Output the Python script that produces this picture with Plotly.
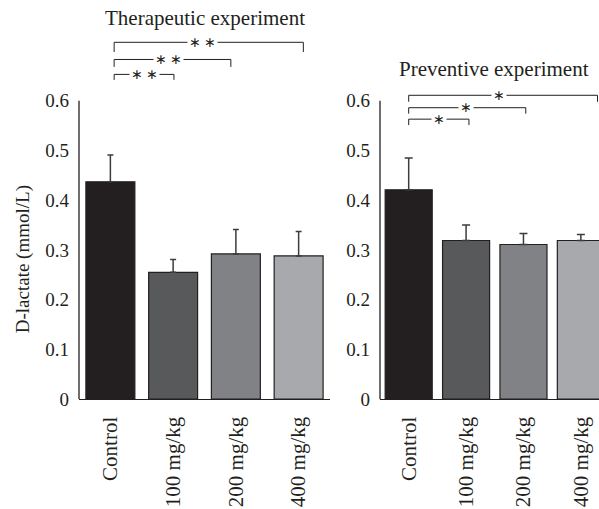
import plotly.graph_objects as go

# D-lactate levels (mmol/L), mean and upper SD for each group
groups = ["Control", "100 mg/kg", "200 mg/kg", "400 mg/kg"]
therapeutic_mean = [0.437, 0.255, 0.292, 0.288]
therapeutic_sd = [0.054, 0.026, 0.049, 0.049]
preventive_mean = [0.421, 0.319, 0.311, 0.319]
preventive_sd = [0.064, 0.031, 0.022, 0.012]

y_ticks = [0, 0.1, 0.2, 0.3, 0.4, 0.5, 0.6]
y_tick_text = ["0", "0.1", "0.2", "0.3", "0.4", "0.5", "0.6"]

bar_colors = ["#231f20", "#58595b", "#808285", "#a7a9ac"]
ink = "#231f20"
serif = "Liberation Serif, Times New Roman, serif"

# significance brackets: (x_start, x_end, y_line, y_drop, star_x, label)
therapeutic_brackets = [
    (0.06, 3.075, 0.7175, 0.698, 1.475, "∗∗"),
    (0.06, 1.92, 0.683, 0.668, 0.93, "∗∗"),
    (0.06, 1.013, 0.653, 0.642, 0.55, "∗∗"),
]
preventive_brackets = [
    (0.0, 3.29, 0.611, 0.598, 1.57, "∗"),
    (0.0, 2.04, 0.586, 0.574, 0.995, "∗"),
    (0.0, 1.05, 0.563, 0.551, 0.52, "∗"),
]

W, H = 599, 509
left_dom = [79 / W, 330 / W]
right_dom = [380 / W, 1.0]
y_dom = [101 / H, 507.7 / H]
y_range = [0, 0.8]

fig = go.Figure()

fig.add_trace(go.Bar(
    x=list(range(len(groups))), y=therapeutic_mean, width=0.78,
    marker=dict(color=bar_colors, line=dict(color=ink, width=1.2)),
    error_y=dict(type="data", symmetric=False, array=therapeutic_sd,
                 arrayminus=[0] * len(groups), color="#3d3b3c",
                 thickness=1.5, width=3),
    xaxis="x", yaxis="y", showlegend=False,
))
fig.add_trace(go.Bar(
    x=list(range(len(groups))), y=preventive_mean, width=0.82,
    marker=dict(color=bar_colors, line=dict(color=ink, width=1.2)),
    error_y=dict(type="data", symmetric=False, array=preventive_sd,
                 arrayminus=[0] * len(groups), color="#3d3b3c",
                 thickness=1.5, width=4),
    xaxis="x2", yaxis="y2", showlegend=False,
))

shapes = []
annotations = []


def add_brackets(brackets, xref, yref):
    for x0, x1, yl, yd, sx, label in brackets:
        shapes.append(dict(type="line", xref=xref, yref=yref, x0=x0, x1=x1,
                           y0=yl, y1=yl, line=dict(color=ink, width=1)))
        for xe in (x0, x1):
            shapes.append(dict(type="line", xref=xref, yref=yref, x0=xe, x1=xe,
                               y0=yl, y1=yd, line=dict(color=ink, width=1)))
        annotations.append(dict(xref=xref, yref=yref, x=sx, y=yl,
                                text=label.replace("∗∗", "∗&#8201;∗"),
                                showarrow=False, bgcolor="white", borderpad=1,
                                xanchor="center", yanchor="middle",
                                font=dict(family=serif, size=14, color=ink)))


add_brackets(therapeutic_brackets, "x", "y")
add_brackets(preventive_brackets, "x2", "y2")

# vertical axis lines stop at 0.6
for xr, yr in (("x domain", "y"), ("x2 domain", "y2")):
    shapes.append(dict(type="line", xref=xr, yref=yr, x0=0, x1=0, y0=0, y1=0.6,
                       line=dict(color=ink, width=1.3)))

annotations += [
    dict(xref="paper", yref="paper", x=205 / W, y=(H - 18) / H,
         text="Therapeutic experiment", showarrow=False,
         xanchor="center", yanchor="middle",
         font=dict(family=serif, size=21, color=ink)),
    dict(xref="paper", yref="paper", x=494 / W, y=(H - 71) / H,
         text="Preventive experiment", showarrow=False,
         xanchor="center", yanchor="middle",
         font=dict(family=serif, size=21, color=ink)),
    dict(xref="paper", yref="paper", x=23 / W, y=(H - 265) / H,
         text="D-lactate (mmol/L)", textangle=-90, showarrow=False,
         xanchor="center", yanchor="middle",
         font=dict(family=serif, size=19, color=ink)),
]

xaxis_common = dict(
    tickmode="array", tickvals=list(range(len(groups))), ticktext=groups,
    tickangle=-90, showline=True, linecolor=ink, linewidth=1.3,
    showgrid=False, zeroline=False, ticks="", ticklabelstandoff=8,
    tickfont=dict(family=serif, size=21, color=ink),
)
yaxis_common = dict(
    range=y_range, domain=y_dom, tickmode="array", tickvals=y_ticks,
    ticktext=y_tick_text, showline=False, showgrid=False, zeroline=False,
    ticks="", ticklabelstandoff=9,
    tickfont=dict(family=serif, size=19, color=ink),
)

fig.update_layout(
    width=W, height=H, margin=dict(l=0, r=0, t=0, b=0),
    paper_bgcolor="white", plot_bgcolor="white",
    xaxis=dict(domain=left_dom, range=[-0.5, 3.5], anchor="y", **xaxis_common),
    yaxis=dict(anchor="x", **yaxis_common),
    xaxis2=dict(domain=right_dom, range=[-0.5, 3.316], anchor="y2", **xaxis_common),
    yaxis2=dict(anchor="x2", **yaxis_common),
    shapes=shapes, annotations=annotations,
)

fig.write_html("out.html")
